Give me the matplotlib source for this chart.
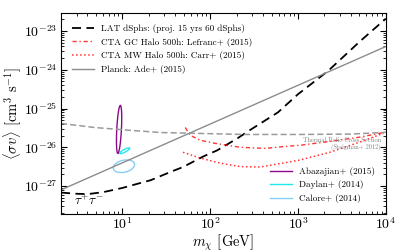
import numpy as np
import matplotlib
matplotlib.use("Agg")
import matplotlib.pyplot as plt
from matplotlib.patches import Ellipse
from matplotlib.transforms import Affine2D

plt.rcParams['font.family'] = 'serif'
plt.rcParams['font.serif'] = ['cmr10']
plt.rcParams['mathtext.fontset'] = 'cm'
plt.rcParams['axes.formatter.use_mathtext'] = True

# LAT dSphs projection (15 yrs, 60 dSphs)
lat_m = [2, 3, 4, 6, 10, 15, 21, 35, 49, 83, 120, 204, 282, 590, 1000, 2200, 5000, 10000]
lat_sv = [-27.17, -27.2, -27.21, -27.16, -27.05, -26.94, -26.85, -26.64, -26.51, -26.24,
          -26.08, -25.77, -25.56, -25.1, -24.63, -24.03, -23.28, -22.68]

# CTA GC halo 500h
gc_m = [52, 59, 77, 114, 219, 420, 630, 1050, 2300, 5000, 9400]
gc_sv = [-25.49, -25.69, -25.82, -25.9, -26.0, -26.03, -25.99, -25.95, -25.85, -25.74, -25.62]

# CTA MW halo 500h
mw_m = [49, 77, 130, 219, 370, 630, 1050, 2300, 5000, 9400]
mw_sv = [-26.13, -26.28, -26.41, -26.5, -26.51, -26.42, -26.33, -26.13, -25.87, -25.64]

# Planck
planck_m = [2, 10000]
planck_sv = [-27.1, -23.4]

# thermal relic (Steigman+ 2012)
th_m = [2, 4.8, 11.7, 27.7, 66, 240, 1000, 3900, 9300, 10000]
th_sv = [-25.385, -25.49, -25.56, -25.62, -25.64, -25.67, -25.67, -25.66, -25.62, -25.61]

# GC excess contours: centre (log10 m, log10 sv), full axes in y-decades, angle (deg)
blobs = {
    'Abazajian+ (2015)': ((0.962, -25.54), 1.24, 0.12, 87, '#8b0a8b'),
    'Daylan+ (2014)': ((1.026, -26.09), 0.29, 0.07, 28, '#22e8e8'),
    'Calore+ (2014)': ((1.017, -26.49), 0.56, 0.31, 13, '#87cef5'),
}

xlim = (2, 1e4)
ylim = (1.9e-28, 2.9e-23)

fig = plt.figure(figsize=(4.07, 2.52), dpi=100)
ax = fig.add_axes([0.150, 0.151, 0.798, 0.797])

l1, = ax.plot(lat_m, 10.0**np.array(lat_sv), color='k', ls=(0, (5, 3)), lw=1.3,
              label='LAT dSphs: (proj. 15 yrs 60 dSphs)')
l2, = ax.plot(gc_m, 10.0**np.array(gc_sv), color='red', ls=(0, (3, 2, 1, 2)), lw=1.0,
              alpha=0.8, label='CTA GC Halo 500h: Lefranc+ (2015)')
l3, = ax.plot(mw_m, 10.0**np.array(mw_sv), color='red', ls=':', lw=1.1, alpha=0.8,
              label='CTA MW Halo 500h: Carr+ (2015)')
l4, = ax.plot(planck_m, 10.0**np.array(planck_sv), color='#8c8c8c', lw=1.0,
              label='Planck: Ade+ (2015)')
ax.plot(th_m, 10.0**np.array(th_sv), color='#9a9a9a', ls=(0, (4, 2)), lw=1.1)

ax.set_xscale('log')
ax.set_yscale('log')
ax.set_xlim(*xlim)
ax.set_ylim(*ylim)

# ellipses drawn in a log space where one unit is one y-decade on screen
fig.canvas.draw()
bb = ax.get_window_extent()
xdec = np.log10(xlim[1] / xlim[0])
ydec = np.log10(ylim[1] / ylim[0])
k = (bb.width / xdec) / (bb.height / ydec)
tr = (Affine2D().translate(-np.log10(xlim[0]) * k, -np.log10(ylim[0]))
      .scale(1 / (xdec * k), 1 / ydec) + ax.transAxes)

handles2 = []
for name, (c, w, h, ang, col) in blobs.items():
    ax.add_patch(Ellipse((c[0] * k, c[1]), w, h, angle=ang, transform=tr,
                         fill=False, edgecolor=col, lw=1.0))
    hh, = ax.plot([], [], color=col, lw=1.0, label=name)
    handles2.append(hh)

leg1 = ax.legend(handles=[l1, l2, l3, l4], loc='upper left', frameon=False,
                 fontsize=6.6, handlelength=2.4, borderaxespad=0.8, labelspacing=0.5)
ax.add_artist(leg1)
ax.legend(handles=handles2, loc='lower right', frameon=False, fontsize=6.6,
          handlelength=2.4, borderaxespad=0.8, labelspacing=0.5)

ax.text(0.985, 0.383, 'Thermal Relic Cross Section\n(Steigman+ 2012)', transform=ax.transAxes,
        ha='right', va='top', fontsize=4.5, color='#808080', multialignment='right')
ax.text(0.04, 0.045, r'$\tau^{+}\tau^{-}$', transform=ax.transAxes, fontsize=9.5)

ax.set_xlabel(r'$m_\chi$ [GeV]', fontsize=10.5, labelpad=0)
ax.set_ylabel(r'$\langle\sigma v\rangle$ [cm$^3$ s$^{-1}$]', fontsize=10.5, labelpad=0)
ax.tick_params(which='both', direction='in', top=True, right=True, labelsize=10)
ax.tick_params(which='major', length=4)
ax.tick_params(which='minor', length=2)
ax.tick_params(axis='x', pad=2)
ax.tick_params(axis='y', pad=2.5)
ax.set_yticks([1e-27, 1e-26, 1e-25, 1e-24, 1e-23])

fig.savefig('out.png', dpi=100)
